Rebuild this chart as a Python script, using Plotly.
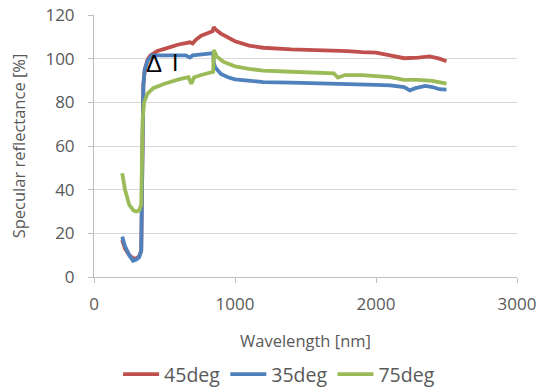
import plotly.graph_objects as go

# Data
wl_45 = [200, 220, 250, 280, 300, 320, 335, 340, 345, 350, 360, 380, 400, 450, 500, 600, 680, 700, 720, 760, 800,
         840, 850, 860, 900, 950, 1000, 1100, 1200, 1400, 1600, 1800, 1900, 2000, 2100, 2200, 2300, 2380, 2450, 2500]
r_45 = [17, 13, 10, 8.5, 8.5, 9.5, 12, 40, 70, 88, 95, 99.5, 101.5, 103.5, 104.5, 106.5, 107.5, 107, 108.5, 110.5, 111.5,
        112.5, 114.5, 113.5, 111.5, 109.5, 108, 106, 105, 104.3, 104, 103.5, 103, 102.8, 101.5, 100.2, 100.5, 101, 100, 98.8]

wl_35 = [200, 220, 250, 277, 300, 320, 335, 340, 345, 350, 360, 380, 410, 500, 600, 650, 680, 700, 800, 845, 850, 860,
         900, 950, 1000, 1100, 1200, 1400, 1600, 1700, 1800, 2000, 2100, 2200, 2240, 2280, 2350, 2400, 2450, 2500]
r_35 = [18.5, 14, 10, 7.5, 8, 9, 12, 40, 70, 88, 95, 99, 101.5, 101.5, 101.8, 101.5, 100.5, 101.5, 102.2, 102.5, 98, 96,
        93, 91.5, 90.5, 89.8, 89.3, 89, 88.8, 88.8, 88.3, 88, 87.8, 87, 85.5, 86.5, 87.5, 87, 86, 85.8]

wl_75 = [200, 220, 250, 280, 300, 320, 335, 340, 345, 355, 380, 420, 500, 600, 670, 690, 710, 760, 800, 845, 850, 870,
         920, 1000, 1100, 1200, 1400, 1600, 1700, 1730, 1780, 1900, 2000, 2100, 2200, 2300, 2400, 2500]
r_75 = [47.5, 40, 33, 30.5, 30, 30.5, 33, 55, 72, 80, 84, 86.5, 88.5, 90.5, 91.5, 88.5, 91.5, 92.5, 93, 94, 104, 101,
        98.5, 96.5, 95.3, 94.5, 94, 93.5, 93.3, 91.3, 92.5, 92.5, 92, 91.5, 90.3, 90.3, 89.8, 88.6]

series = [
    ("45deg", wl_45, r_45, "#c0504d"),
    ("35deg", wl_35, r_35, "#4f81bd"),
    ("75deg", wl_75, r_75, "#9bbb59"),
]

x_ticks = [0, 1000, 2000, 3000]
y_ticks = [0, 20, 40, 60, 80, 100, 120]

font_family = "Open Sans, Liberation Sans, sans-serif"

fig = go.Figure()
for name, x, y, color in series:
    fig.add_trace(go.Scatter(x=x, y=y, mode="lines", name=name,
                             line=dict(color=color, width=3.8)))

fig.add_annotation(x=425, y=98, text="Δ", showarrow=False,
                   font=dict(size=24, color="#000000", family="Liberation Sans"))
fig.add_annotation(x=574, y=98, text="I", showarrow=False,
                   font=dict(size=23, color="#000000", family="Liberation Sans"))

fig.update_layout(
    width=538, height=392,
    margin=dict(l=94, r=21, t=15, b=115, autoexpand=False),
    paper_bgcolor="white", plot_bgcolor="white",
    font=dict(family=font_family, color="#595959", size=16),
    showlegend=True,
    legend=dict(orientation="h", x=0.057, xanchor="left", y=-0.372, yanchor="middle",
                font=dict(size=19.5, color="#595959"), itemwidth=36,
                tracegroupgap=0, borderwidth=0, bgcolor="rgba(0,0,0,0)"),
)
fig.update_xaxes(range=[0, 3000], tickvals=x_ticks, showgrid=False, automargin=False,
                 showline=True, linecolor="#bfbfbf", linewidth=1,
                 ticks="outside", ticklen=5, tickcolor="#bfbfbf", ticklabelstandoff=7,
                 zeroline=False, tickfont=dict(size=17),
                 title=dict(text="Wavelength [nm]", font=dict(size=16.5), standoff=21))
fig.update_yaxes(range=[0, 120], tickvals=y_ticks, showgrid=True, gridcolor="#d9d9d9", automargin=False,
                 showline=True, linecolor="#bfbfbf", linewidth=1,
                 ticks="outside", ticklen=5, tickcolor="#bfbfbf", ticklabelstandoff=10,
                 zeroline=False, tickfont=dict(size=17),
                 title=dict(text="Specular reflectance [%]", font=dict(size=16.5), standoff=15))

fig.write_html("out.html", config={"displayModeBar": False},
               post_script="document.body.style.margin='0px';")
